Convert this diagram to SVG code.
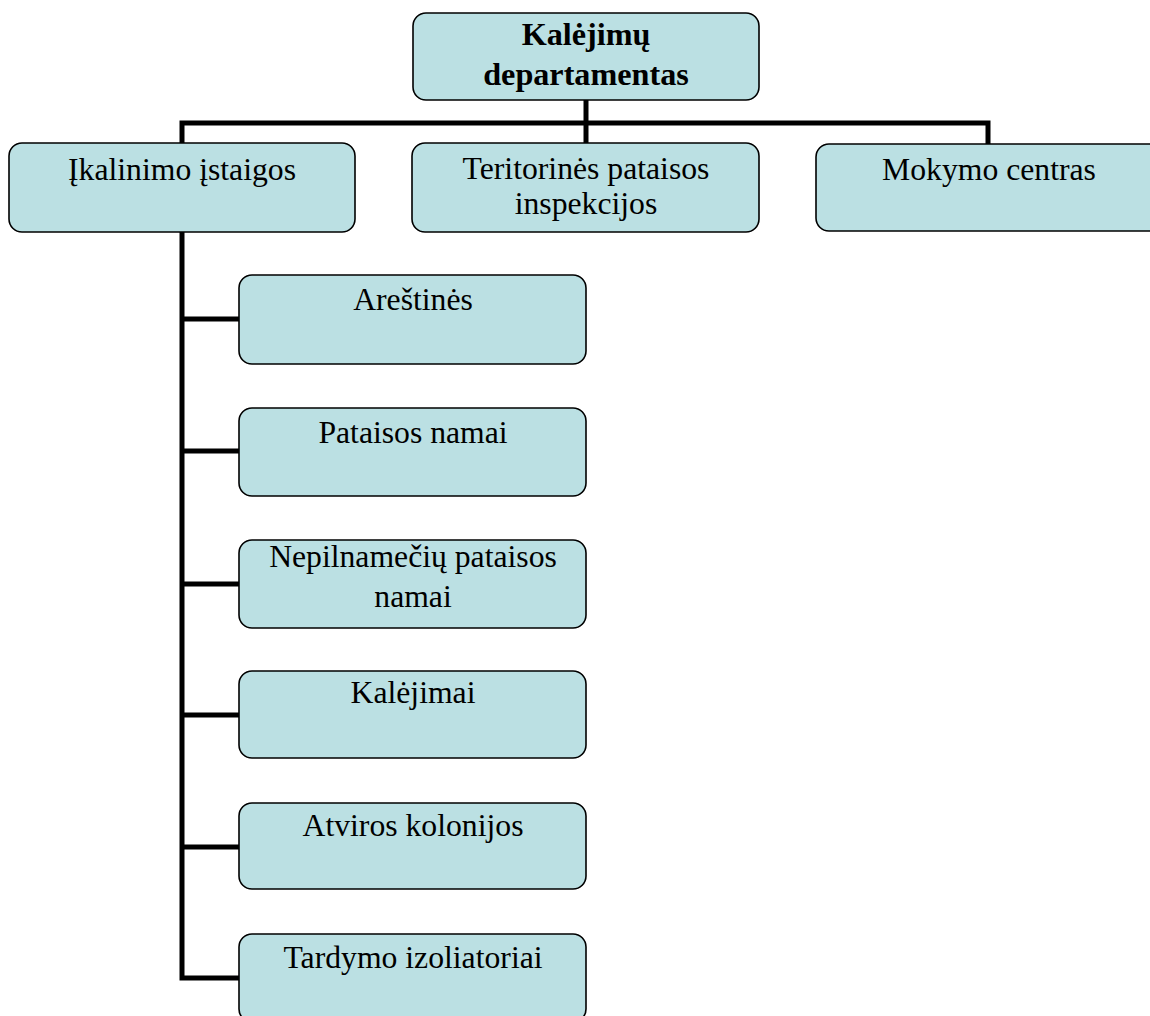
<svg xmlns="http://www.w3.org/2000/svg" width="1150" height="1016" viewBox="0 0 1150 1016">
<style>
.box{fill:#BBE0E3;stroke:#000;stroke-width:1.6}
.t{font-family:"Liberation Serif","Times New Roman",serif;font-size:31.7px;fill:#000;text-anchor:middle}
.b{font-weight:bold;font-size:32.2px}
.c{fill:none;stroke:#000;stroke-width:5;stroke-linejoin:miter;stroke-linecap:butt}
</style>
<rect width="1150" height="1016" fill="#fff"/>
<g id="connectors">
<path class="c" d="M586 100V143"/>
<path class="c" d="M182 143V123H988V144"/>
<path class="c" d="M182 232V978H239"/>
<path class="c" d="M182 319H239M182 451H239M182 584H239M182 715H239M182 847H239"/>
</g>
<g id="n0"><rect class="box" x="413" y="13" width="346" height="87" rx="13"/>
<text class="t b" x="586" y="45">Kalėjimų</text><text class="t b" x="586" y="85">departamentas</text></g>
<g id="n1"><rect class="box" x="9" y="143" width="346" height="89" rx="13"/>
<text class="t" x="182" y="180">Įkalinimo įstaigos</text></g>
<g id="n2"><rect class="box" x="412" y="143" width="347" height="89" rx="13"/>
<text class="t" x="586" y="179">Teritorinės pataisos</text><text class="t" x="586" y="214">inspekcijos</text></g>
<g id="n3"><rect class="box" x="816" y="144" width="346" height="87" rx="13"/>
<text class="t" x="989" y="180">Mokymo centras</text></g>
<g id="n4"><rect class="box" x="239" y="275" width="347" height="89" rx="13"/>
<text class="t" x="413" y="310">Areštinės</text></g>
<g id="n5"><rect class="box" x="239" y="408" width="347" height="88" rx="13"/>
<text class="t" x="413" y="443">Pataisos namai</text></g>
<g id="n6"><rect class="box" x="239" y="540" width="347" height="88" rx="13"/>
<text class="t" x="413" y="567">Nepilnamečių pataisos</text><text class="t" x="413" y="607">namai</text></g>
<g id="n7"><rect class="box" x="239" y="671" width="347" height="87" rx="13"/>
<text class="t" x="413" y="703">Kalėjimai</text></g>
<g id="n8"><rect class="box" x="239" y="803" width="347" height="86" rx="13"/>
<text class="t" x="413" y="836">Atviros kolonijos</text></g>
<g id="n9"><rect class="box" x="239" y="934" width="347" height="88" rx="13"/>
<text class="t" x="413" y="968">Tardymo izoliatoriai</text></g>
</svg>
